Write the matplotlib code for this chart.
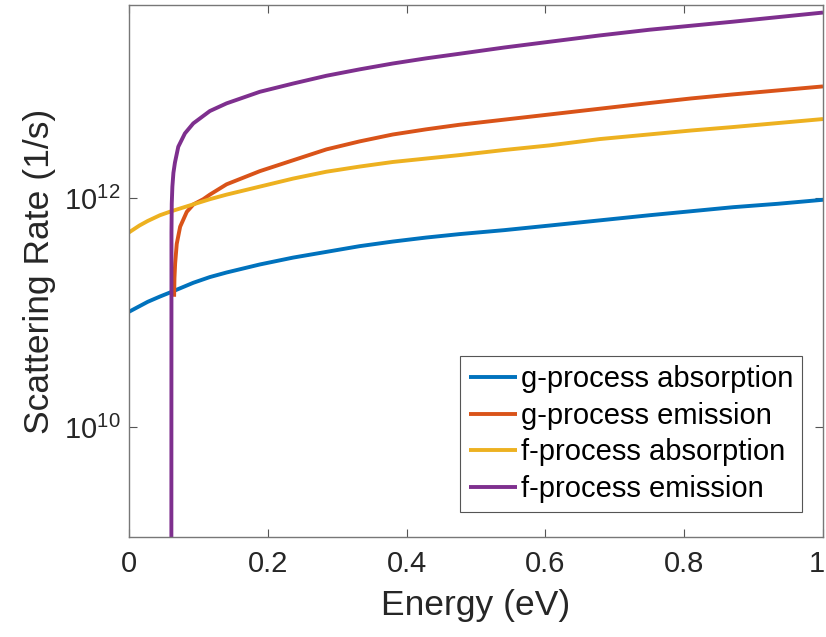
import matplotlib
matplotlib.use("Agg")
import matplotlib.pyplot as plt
import matplotlib.transforms as mtransforms
import numpy as np

plt.rcParams['font.family'] = ['Liberation Sans', 'DejaVu Sans']
plt.rcParams['mathtext.fontset'] = 'custom'
plt.rcParams['mathtext.rm'] = 'Liberation Sans'
plt.rcParams['mathtext.it'] = 'Liberation Sans:italic'
plt.rcParams['mathtext.default'] = 'regular'

# ---- data (energy in eV, log10 of rate in 1/s) ----
g_abs_E = [0.0, 0.027, 0.0446, 0.061, 0.0926, 0.1165, 0.1406, 0.1885, 0.2364, 0.2844, 0.3324,
           0.380, 0.428, 0.476, 0.541, 0.606, 0.678, 0.75, 0.81, 0.87, 0.935, 1.0]
g_abs_logR = [11.007, 11.094, 11.14, 11.18, 11.26, 11.31, 11.35, 11.42, 11.48, 11.53, 11.58,
              11.62, 11.655, 11.685, 11.72, 11.76, 11.805, 11.85, 11.885, 11.92, 11.95, 11.985]

g_emi_E = [0.065, 0.0655, 0.0665, 0.0688, 0.0737, 0.0833, 0.0929, 0.107, 0.1165, 0.1406, 0.1885,
           0.2364, 0.2844, 0.3324, 0.380, 0.428, 0.476, 0.541, 0.606, 0.678, 0.75, 0.81, 0.87,
           0.935, 1.0]
g_emi_logR = [11.138, 11.30, 11.43, 11.60, 11.75, 11.88, 11.945, 11.99, 12.03, 12.12, 12.235,
              12.33, 12.425, 12.495, 12.555, 12.60, 12.64, 12.685, 12.73, 12.78, 12.83, 12.87,
              12.905, 12.94, 12.975]

f_abs_E = [0.0, 0.015, 0.027, 0.0446, 0.061, 0.0926, 0.1165, 0.1406, 0.1885, 0.2364, 0.2844,
           0.3324, 0.380, 0.428, 0.476, 0.541, 0.606, 0.678, 0.75, 0.81, 0.87, 0.935, 1.0]
f_abs_logR = [11.70, 11.76, 11.80, 11.85, 11.885, 11.945, 11.99, 12.03, 12.10, 12.17, 12.23,
              12.275, 12.315, 12.345, 12.375, 12.42, 12.46, 12.515, 12.556, 12.59, 12.62, 12.655,
              12.69]

f_emi_E = [0.0610, 0.0612, 0.0616, 0.0625, 0.0640, 0.0662, 0.0710, 0.0806, 0.0926, 0.1165,
           0.1406, 0.1885, 0.2364, 0.2844, 0.3324, 0.380, 0.428, 0.476, 0.541, 0.606, 0.678,
           0.75, 0.81, 0.87, 0.935, 1.0]
f_emi_logR = [8.0, 11.7, 11.95, 12.10, 12.22, 12.31, 12.448, 12.565, 12.652, 12.76, 12.827,
              12.928, 13.0, 13.068, 13.124, 13.175, 13.22, 13.26, 13.315, 13.365, 13.42, 13.47,
              13.505, 13.54, 13.58, 13.62]

labels = ['g-process absorption', 'g-process emission', 'f-process absorption', 'f-process emission']
colors = ['#0072BD', '#D95319', '#EDB120', '#7E2F8E']
x_tick_vals = [0, 0.2, 0.4, 0.6, 0.8, 1.0]
x_tick_labels = ['0', '0.2', '0.4', '0.6', '0.8', '1']
y_tick_vals = [1e10, 1e12]
y_tick_labels = [r'$10^{10}$', r'$10^{12}$']

fig = plt.figure(figsize=(8.26, 6.37), dpi=100)
ax = fig.add_axes([129 / 826, 1 - 537 / 637, (823 - 129) / 826, (537 - 5) / 637])

series = [(g_abs_E, g_abs_logR), (g_emi_E, g_emi_logR), (f_abs_E, f_abs_logR), (f_emi_E, f_emi_logR)]
for (E, L), lab, c in zip(series, labels, colors):
    R = 10.0 ** np.asarray(L)
    ax.plot(E, R, color=c, lw=2.8, label=lab, solid_capstyle='butt', solid_joinstyle='round')

ax.set_yscale('log')
ax.set_xlim(0, 1)
ax.set_ylim(10 ** 9.04, 10 ** 13.686)
ax.set_xticks(x_tick_vals)
ax.set_xticklabels(x_tick_labels)
ax.set_yticks(y_tick_vals)
ax.set_yticklabels(y_tick_labels)
ax.yaxis.set_minor_locator(matplotlib.ticker.NullLocator())
ax.xaxis.set_minor_locator(matplotlib.ticker.NullLocator())

tc = '#262626'
ax.tick_params(axis='both', which='major', direction='in', length=5.5, width=0.8,
               colors='#555555', labelcolor=tc, labelsize=21, top=True, right=True)
ax.tick_params(axis='x', pad=9)
ax.tick_params(axis='y', pad=6)
for s in ax.spines.values():
    s.set_color('#777777')
    s.set_linewidth(1.0)

# nudge the last x tick label slightly left so it stays inside the canvas
last = ax.get_xticklabels()[-1]
last.set_transform(last.get_transform() + mtransforms.ScaledTranslation(-6 / 100, 0, fig.dpi_scale_trans))

ax.set_xlabel('Energy (eV)', fontsize=25.5, color=tc, labelpad=8)
ax.set_ylabel('Scattering Rate (1/s)', fontsize=25.5, color=tc, labelpad=6)

leg = ax.legend(loc='lower right', bbox_to_anchor=(0.9697, 0.047), fontsize=21,
                frameon=True, fancybox=False, edgecolor='#555555', framealpha=1,
                handlelength=1.65, handletextpad=0.12, labelspacing=0.3,
                borderpad=0.3, borderaxespad=0.0)
leg.get_frame().set_linewidth(0.8)
for t in leg.get_texts():
    t.set_color('black')

fig.savefig('out.png', dpi=100)
